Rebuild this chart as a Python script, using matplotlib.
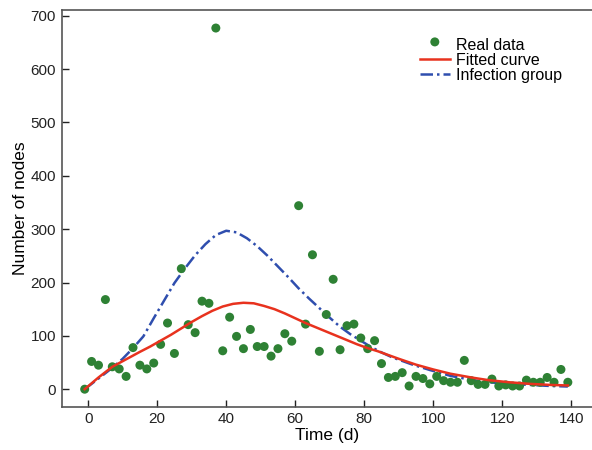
import matplotlib
matplotlib.use("Agg")
import matplotlib.pyplot as plt

plt.rcParams['font.family'] = ['Liberation Sans', 'DejaVu Sans']

# real data, one sample every 2 days
days = list(range(-1, 140, 2))
nodes = [0, 52, 45, 168, 42, 38, 24, 78, 45, 38, 49, 84, 124, 67, 226, 121,
         106, 165, 161, 677, 72, 135, 99, 76, 112, 80, 80, 62, 76, 104, 90, 344,
         122, 252, 71, 140, 206, 74, 119, 122, 96, 76, 91, 48, 22, 24, 31, 6,
         24, 20, 10, 24, 16, 13, 13, 54, 16, 9, 9, 19, 6, 8, 6, 6,
         17, 13, 13, 22, 13, 37, 13]

# fitted curve
fit_t = [-1, 3, 7, 11, 15, 18, 21, 24, 27, 30, 33, 36, 39, 42, 45, 48, 51,
         54, 57, 60, 63, 66, 69, 72, 75, 78, 81, 84, 87, 90, 95, 100, 105,
         111, 116, 122, 128, 134, 139]
fit_v = [0, 22, 42, 56, 70, 80, 91, 102, 114, 126, 137, 147, 155, 160, 162,
         161, 156, 150, 142, 133, 124, 116, 108, 100, 92, 84, 77, 71, 64, 57,
         46, 37, 29, 22, 17, 13, 10, 8, 7]

# infection group curve
inf_t = [-1, 3, 7, 10, 13, 16, 19, 22, 25, 28, 31, 34, 37, 40, 43, 46, 49,
         52, 55, 58, 61, 64, 67, 70, 73, 76, 79, 82, 85, 88, 91, 94, 99, 105,
         111, 116, 122, 128, 134, 139]
inf_v = [0, 20, 40, 57, 77, 99, 133, 166, 199, 226, 251, 272, 289, 297, 294,
         283, 268, 250, 230, 210, 189, 170, 152, 134, 117, 103, 91, 79, 69, 60,
         53, 46, 36, 25, 17.5, 13, 10, 8, 6, 5]

fig = plt.figure(figsize=(5.92, 4.5), dpi=100)
ax = fig.add_axes([0.104, 0.096, 0.896, 0.882])

ax.scatter(days, nodes, s=42, color='#2e8134', zorder=3, label='Real data',
           edgecolors='none')
ax.plot(fit_t, fit_v, color='#e8321e', lw=1.8, label='Fitted curve', zorder=4)
ax.plot(inf_t, inf_v, color='#2f4eae', lw=1.8, dashes=[5, 1.6, 1, 1.6],
        label='Infection group', zorder=2)

ax.set_xlim(-7.7, 146)
ax.set_ylim(-33, 711)
ax.set_xticks([0, 20, 40, 60, 80, 100, 120, 140])
ax.set_yticks([0, 100, 200, 300, 400, 500, 600, 700])
ax.tick_params(direction='in', length=5, width=1, labelsize=11, pad=4,
               colors='#222222')
ax.spines['right'].set_visible(False)
for s in ['left', 'bottom', 'top']:
    ax.spines[s].set_linewidth(1.2)
    ax.spines[s].set_color('#555555')

ax.set_xlabel('Time (d)', fontsize=12.5, labelpad=1)
ax.set_ylabel('Number of nodes', fontsize=12.5, labelpad=2)

leg = ax.legend(loc='upper left', bbox_to_anchor=(0.66, 0.95), frameon=False,
                fontsize=11.5, handlelength=1.9, handletextpad=0.4,
                labelspacing=0.0, borderpad=0, scatteryoffsets=[0.7])

fig.savefig('out.png', dpi=100)
